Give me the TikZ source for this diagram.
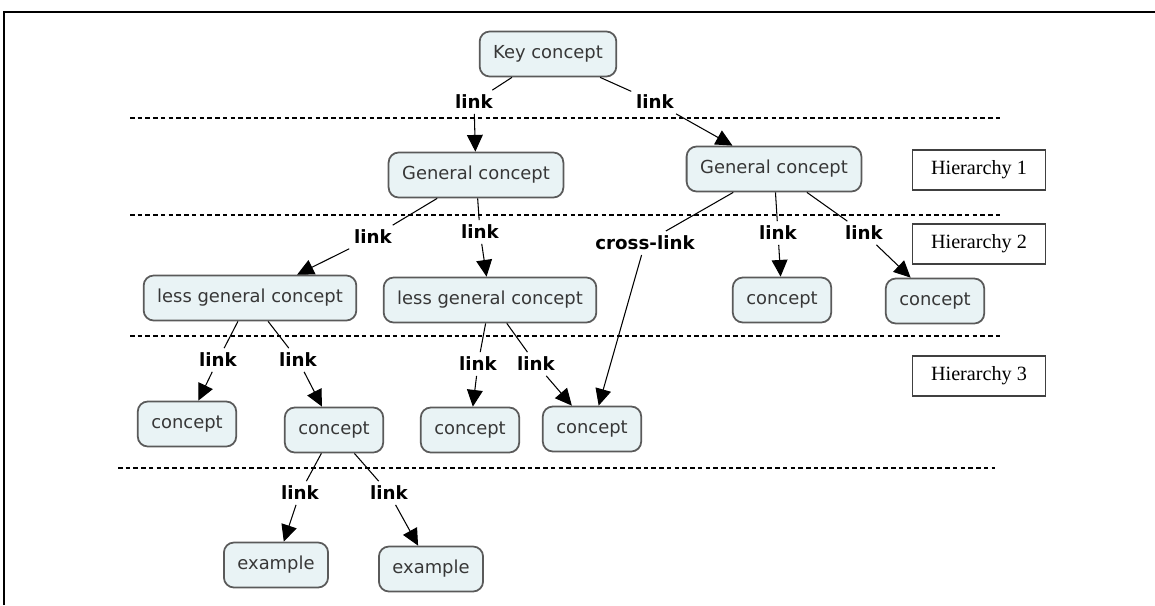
\documentclass[tikz,border=0pt]{standalone}
\usepackage{fontspec}
\setmainfont{DejaVu Sans}
\newfontfamily\levelfont{Liberation Serif}
\usetikzlibrary{arrows.meta}

\definecolor{boxfill}{RGB}{233,243,245}
\definecolor{boxline}{RGB}{90,90,90}
\definecolor{boxtext}{RGB}{55,55,55}

\begin{document}
\begin{tikzpicture}[x=0.02cm, y=-0.02cm,
  concept/.style={rectangle, rounded corners=0.2cm, draw=boxline, line width=1pt, fill=boxfill,
    text=boxtext, font=\fontsize{10.2}{12}\selectfont, inner xsep=0.27cm, minimum height=0.9cm},
  linklbl/.style={font=\fontsize{10.4}{12}\selectfont\bfseries, inner sep=2.5pt},
  level/.style={rectangle, draw=black!75, line width=0.8pt, fill=white, font=\levelfont\fontsize{11.5}{13}\selectfont,
    minimum width=2.66cm, minimum height=0.8cm},
  sep/.style={dashed, dash pattern=on 2.6pt off 1.8pt, line width=0.6pt},
  ->/.style={-{Triangle[length=9.5pt,width=9pt]}},
  every path/.style={line width=0.6pt}]
  \useasboundingbox (0,0) rectangle (1155,605);
  % frame
  \draw[line width=1.5pt] (4,605) -- (4,12) -- (1155,12);

  % hierarchy separators
  \draw[sep] (130,118) -- (1003,118);
  \draw[sep] (130,215) -- (1003,215);
  \draw[sep] (130,336) -- (1000,336);
  \draw[sep] (118,468) -- (995,468);

  % hierarchy labels
  \node[level] (h1) at (979,170) {Hierarchy 1};
  \node[level] (h2) at (979,244) {Hierarchy 2};
  \node[level] (h3) at (979,376) {Hierarchy 3};

  % concepts
  \node[concept] (kc) at (548,54) {Key concept};
  \node[concept] (gc1) at (476,175) {General concept};
  \node[concept] (gc2) at (774,169) {General concept};
  \node[concept] (lg1) at (250,298) {less general concept};
  \node[concept] (lg2) at (490,300) {less general concept};
  \node[concept] (c1) at (782,300) {concept};
  \node[concept] (c2) at (935,301) {concept};
  \node[concept] (c3) at (187,424) {concept};
  \node[concept] (c4) at (334,430) {concept};
  \node[concept] (c5) at (470,430) {concept};
  \node[concept] (c6) at (592,429) {concept};
  \node[concept] (ex1) at (276,565) {example};
  \node[concept] (ex2) at (431,569) {example};

  % link words
  \node[linklbl] (l1) at (474,102) {link};
  \node[linklbl] (l2) at (655,102) {link};
  \node[linklbl] (l3) at (373,237) {link};
  \node[linklbl] (l4) at (480,232) {link};
  \node[linklbl] (xl) at (645,243) {cross-link};
  \node[linklbl] (l5) at (778,233) {link};
  \node[linklbl] (l6) at (864,233) {link};
  \node[linklbl] (l7) at (218,360) {link};
  \node[linklbl] (l8) at (298,360) {link};
  \node[linklbl] (l9) at (478,364) {link};
  \node[linklbl] (l10) at (536,364) {link};
  \node[linklbl] (l11) at (300,493) {link};
  \node[linklbl] (l12) at (389,493) {link};

  % connections
  \draw (kc) -- (l1);
  \draw[->] (l1) -- (gc1);
  \draw (kc) -- (l2);
  \draw[->] (l2) -- (gc2);
  \draw (gc1) -- (l3);
  \draw[->] (l3) -- (lg1);
  \draw (gc1) -- (l4);
  \draw[->] (l4) -- (lg2);
  \draw (gc2) -- (xl);
  \draw[->] (xl) -- (c6);
  \draw (gc2) -- (l5);
  \draw[->] (l5) -- (c1);
  \draw (gc2) -- (l6);
  \draw[->] (l6) -- (c2);
  \draw (lg1) -- (l7);
  \draw[->] (l7) -- (c3);
  \draw (lg1) -- (l8);
  \draw[->] (l8) -- (c4);
  \draw (lg2) -- (l9);
  \draw[->] (l9) -- (c5);
  \draw (lg2) -- (l10);
  \draw[->] (l10) -- (c6);
  \draw (c4) -- (l11);
  \draw[->] (l11) -- (ex1);
  \draw (c4) -- (l12);
  \draw[->] (l12) -- (ex2);
\end{tikzpicture}
\end{document}
